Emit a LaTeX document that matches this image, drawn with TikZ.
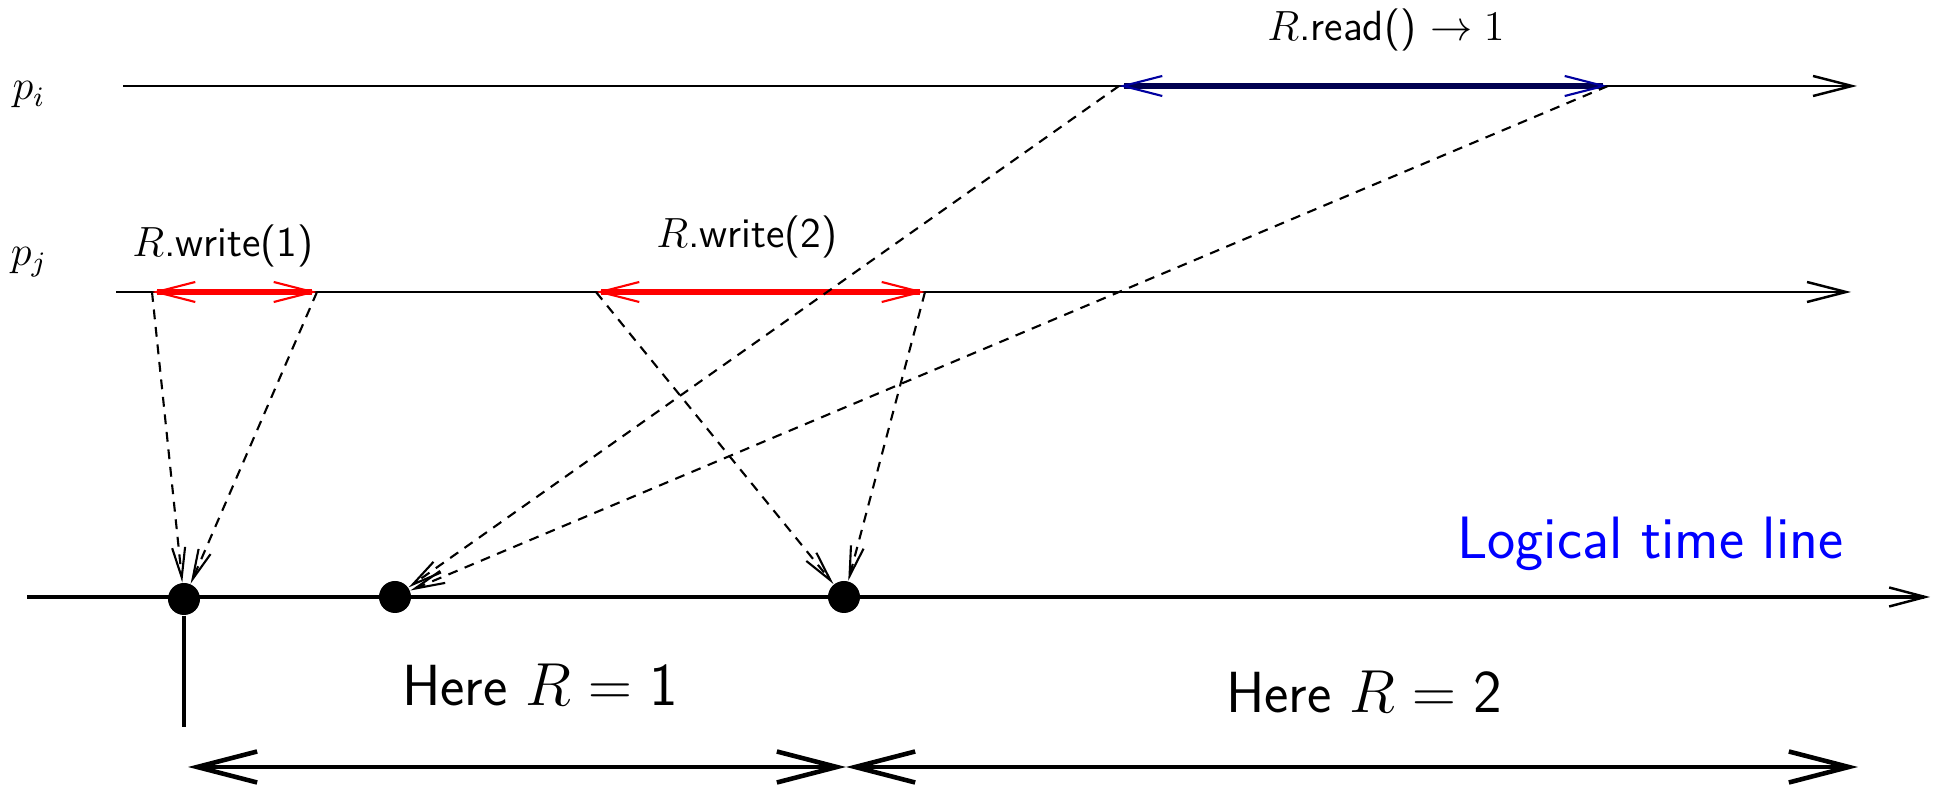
\documentclass[tikz,border=0pt]{standalone}
\usetikzlibrary{arrows.meta}
\definecolor{readblue}{RGB}{0,0,160}
\definecolor{readdark}{RGB}{0,0,80}

\begin{document}
\begin{tikzpicture}[x=0.01cm, y=-0.01cm,
  proc/.style={line width=0.7pt, -{Straight Barb[length=0.39cm,width=0.2cm]}},
  opline/.style={line width=1.5pt, {Straight Barb[length=0.39cm,width=0.2cm,line width=0.6pt]}-{Straight Barb[length=0.39cm,width=0.2cm,line width=0.6pt]}},
  msg/.style={line width=0.6pt, dash pattern=on 2.8pt off 2.2pt, -{Straight Barb[length=0.3cm,width=0.13cm]}},
  timeline/.style={line width=1.2pt, -{Straight Barb[length=0.36cm,width=0.19cm,line width=0.7pt]}},
  span/.style={line width=1.3pt, {Straight Barb[length=0.6cm,width=0.31cm]}-{Straight Barb[length=0.6cm,width=0.31cm]}},
  dot/.style={circle, fill, inner sep=0pt, minimum size=0.32cm},
  lbl/.style={font=\sffamily\fontsize{12}{14}\selectfont},
  big/.style={font=\sffamily\fontsize{16.5}{19}\selectfont}]
  \useasboundingbox (0,0) rectangle (1935,786);

  % the two processes
  \node[lbl] (pi) at (29,95)  {$p_i$};
  \node[lbl] (pj) at (29,262) {$p_j$};
  \coordinate (pis) at (123,86);  \coordinate (pie) at (1857,86);
  \coordinate (pjs) at (116,292); \coordinate (pje) at (1851,292);
  \draw[proc] (pis) -- (pie);
  \draw[proc] (pjs) -- (pje);

  % operations
  \coordinate (rs)  at (1119,86);  \coordinate (re)  at (1608,86);
  \coordinate (w1s) at (152,292);  \coordinate (w1e) at (317,292);
  \coordinate (w2s) at (596,292);  \coordinate (w2e) at (925,292);
  \draw[opline, readdark, arrows={[color=readblue]}] (rs) -- (re);
  \draw[opline, red] (w1s) -- (w1e);
  \draw[opline, red] (w2s) -- (w2e);
  \node[lbl] (rd) at (1386,30)  {$R$.read() $\rightarrow 1$};
  \node[lbl] (w1) at (223,246) {$R$.write(1)};
  \node[lbl] (w2) at (747,237) {$R$.write(2)};

  % logical time line
  \coordinate (ts) at (27,597); \coordinate (te) at (1930,597);
  \draw[timeline] (ts) -- (te);
  \node[dot] (d1) at (184,599) {};
  \node[dot] (d2) at (395,597) {};
  \node[dot] (d3) at (844,597) {};
  \coordinate (v) at (184,727);
  \draw[line width=1.4pt] (d1) -- (v);
  \node[big, text=blue, anchor=east] (tl) at (1856,544) {\fontsize{17}{20}\selectfont Logical time line};

  % linearization points
  \draw[msg] (w1s) -- (d1);
  \draw[msg] (w1e) -- (d1);
  \draw[msg] (w2s) -- (d3);
  \draw[msg] (w2e) -- (d3);
  \draw[msg] (rs) -- (d2);
  \draw[msg] (re) -- (d2);

  % value of R
  \node[big] (h1) at (540,685)  {Here $R=\mathsf{1}$};
  \node[big] (h2) at (1364,692) {Here $R=\mathsf{2}$};
  \coordinate (b1) at (188,767); \coordinate (b2) at (846,767); \coordinate (b3) at (1858,767);
  \draw[span] (b1) -- (b2);
  \draw[span] (b2) -- (b3);
\end{tikzpicture}
\end{document}
